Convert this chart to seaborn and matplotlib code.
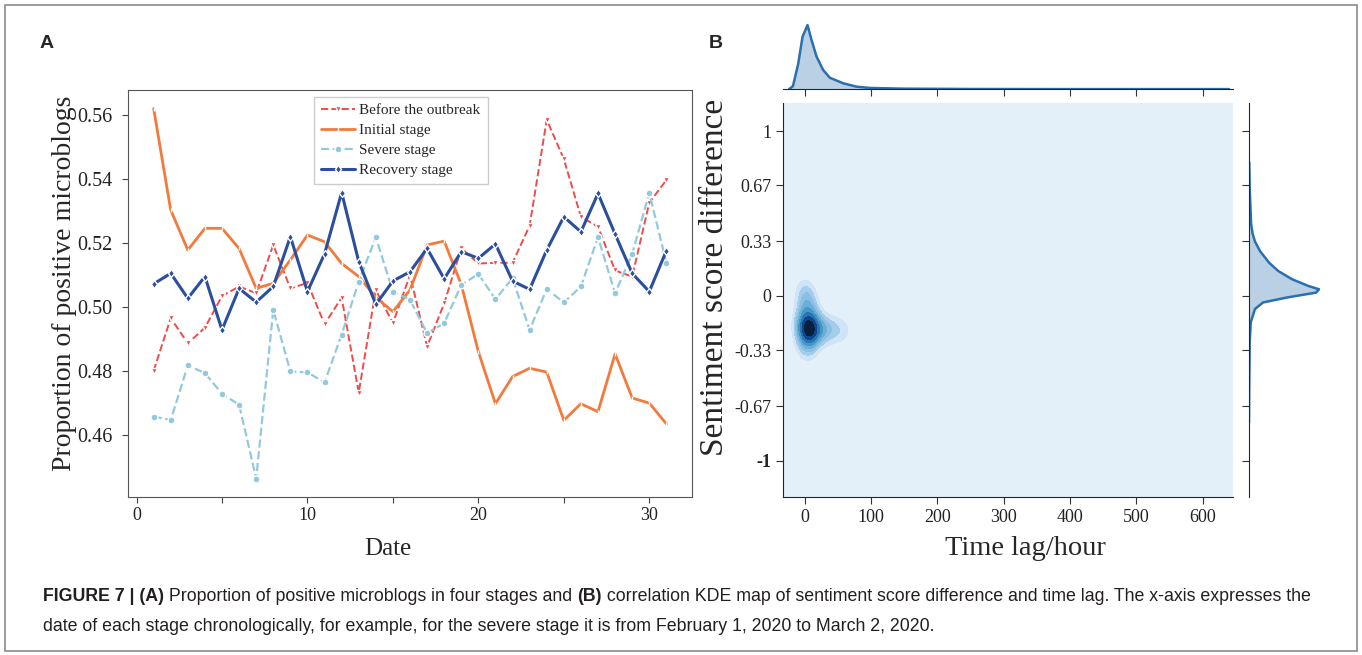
import numpy as np
import pandas as pd
import seaborn as sns
import matplotlib.pyplot as plt
from matplotlib import font_manager
from matplotlib.colors import LinearSegmentedColormap
from matplotlib.patches import Rectangle

# ---------------- panel A data ----------------
days = list(range(1, 32))
before_outbreak = [0.4800, 0.4965, 0.4886, 0.4935, 0.5034, 0.5064, 0.5043, 0.5194, 0.5058, 0.5075,
                   0.4946, 0.5029, 0.4732, 0.5053, 0.4949, 0.5100, 0.4876, 0.5011, 0.5183, 0.5136,
                   0.5138, 0.5138, 0.5254, 0.5586, 0.5463, 0.5282, 0.5251, 0.5114, 0.5095, 0.5326, 0.5397]
initial_stage = [0.5621, 0.5303, 0.5178, 0.5246, 0.5246, 0.5183, 0.5058, 0.5074, 0.5147, 0.5225,
                 0.5204, 0.5136, 0.5095, 0.5030, 0.4985, 0.5053, 0.5194, 0.5206, 0.5070, 0.4860,
                 0.4697, 0.4782, 0.4808, 0.4796, 0.4645, 0.4697, 0.4672, 0.4853, 0.4715, 0.4699, 0.4634]
severe_stage = [0.4657, 0.4646, 0.4817, 0.4793, 0.4728, 0.4694, 0.4463, 0.4991, 0.4798, 0.4795,
                0.4764, 0.4913, 0.5079, 0.5218, 0.5048, 0.5022, 0.4918, 0.4949, 0.5069, 0.5103,
                0.5024, 0.5090, 0.4928, 0.5056, 0.5014, 0.5064, 0.5218, 0.5043, 0.5166, 0.5357, 0.5138]
recovery_stage = [0.5072, 0.5105, 0.5027, 0.5095, 0.4928, 0.5058, 0.5015, 0.5064, 0.5220, 0.5048,
                  0.5166, 0.5358, 0.5142, 0.5008, 0.5081, 0.5110, 0.5183, 0.5088, 0.5173, 0.5152,
                  0.5197, 0.5081, 0.5055, 0.5178, 0.5282, 0.5235, 0.5355, 0.5228, 0.5105, 0.5048, 0.5176]
stage_names = ["Before the outbreak", "Initial stage", "Severe stage", "Recovery stage"]

# ---------------- panel B data ----------------
# estimated (time lag, score difference) pairs behind the joint KDE
joint_lag = [0, 2, 4, 5, 6, 3, 1, 8, 5, 2, 7, 4, 0, 10, 6, 3, 12, 9, 15, 18,
             22, 28, 35, 45, 1, 5, 0, 4, 7, 3, 30, 50, 62, 1, 3, 0]
joint_diff = [-0.20, -0.18, -0.22, -0.20, -0.15, -0.25, -0.10, -0.20, -0.05, -0.30,
              -0.24, -0.12, -0.02, -0.18, -0.28, -0.16, -0.22, -0.10, -0.20, -0.17,
              -0.22, -0.19, -0.21, -0.20, -0.35, 0.02, -0.20, -0.20, -0.19, -0.21,
              -0.20, -0.21, -0.20, 0.05, -0.03, -0.27]
# marginal density curves (relative height)
lag_grid = [-24, -18, -10, -3.5, 4, 10, 17.6, 27.6, 37.7, 58, 78, 98, 148, 249, 400, 640]
lag_density = [0, 0.05, 0.40, 0.82, 1.0, 0.77, 0.51, 0.30, 0.18, 0.093, 0.041, 0.021, 0.010,
               0.005, 0.003, 0.003]
diff_grid = [-0.77, -0.57, -0.28, -0.16, -0.08, -0.04, -0.01, 0.02, 0.04, 0.06, 0.10, 0.15,
             0.20, 0.27, 0.33, 0.38, 0.44, 0.545, 0.65, 0.81]
diff_density = [0, 0.003, 0.01, 0.025, 0.085, 0.20, 0.54, 0.96, 1.0, 0.85, 0.62, 0.42,
                0.29, 0.16, 0.085, 0.05, 0.03, 0.02, 0.01, 0.004]

caption_1 = [("FIGURE 7 | (A)", "bold"), (" Proportion of positive microblogs in four stages and ", "normal"),
             ("(B)", "bold"), (" correlation KDE map of sentiment score difference and time lag. The x-axis expresses the", "normal")]
caption_2 = [("date of each stage chronologically, for example, for the severe stage it is from February 1, 2020 to March 2, 2020.", "normal")]

sns.set_style("ticks")
serif = "Liberation Serif"
have = {f.name for f in font_manager.fontManager.ttflist}
cap_font = "Liberation Sans Narrow" if "Liberation Sans Narrow" in have else "Liberation Sans"
cap_size = 15.4 if cap_font == "Liberation Sans Narrow" else 12.8
plt.rcParams["font.family"] = [serif, "DejaVu Serif"]

W, H = 1362, 655
fig = plt.figure(figsize=(W / 100, H / 100), dpi=100)


def box(x0, y0, x1, y1):
    return [x0 / W, 1 - y1 / H, (x1 - x0) / W, (y1 - y0) / H]


# ---------------- panel A ----------------
ax = fig.add_axes(box(128, 90, 692, 497))
styles = [
    dict(color="#ee4b4b", linestyle="--", marker="v", markersize=5, linewidth=1.4),
    dict(color="#f47a3c", linestyle="-", marker="|", markersize=3, linewidth=2.0),
    dict(color="#93c9dd", linestyle="--", marker="o", markersize=5, linewidth=1.6),
    dict(color="#2b4f9e", linestyle="-", marker="d", markersize=4.5, linewidth=2.2),
]
for vals, name, st in zip([before_outbreak, initial_stage, severe_stage, recovery_stage], stage_names, styles):
    sns.lineplot(x=days, y=vals, label=name, ax=ax, markeredgewidth=1, **st)

ax.set_xticks([0, 5, 10, 15, 20, 25, 30])
ax.set_xticklabels(["0", "", "10", "", "20", "", "30"])
ax.set_yticks([0.46, 0.48, 0.50, 0.52, 0.54, 0.56])
ax.set_yticklabels(["0.46", "0.48", "0.50", "0.52", "0.54", "0.56"])
ax.tick_params(labelsize=13, length=4, color="#444444", labelcolor="#222222")
ax.tick_params(axis="y", labelsize=14.5, pad=7)
ax.set_xlabel("Date", fontsize=18)
ax.xaxis.set_label_coords(0.461, -0.100)
ax.set_ylabel("Proportion of positive microblogs", fontsize=20)
ax.yaxis.set_label_coords(-0.091, 0.526)
for sp in ax.spines.values():
    sp.set_visible(True)
    sp.set_color("#555555")
ax.legend(loc="upper center", bbox_to_anchor=(0.484, 0.983), borderaxespad=0, fontsize=11,
          handlelength=2.2, handletextpad=0.3, labelspacing=0.4, borderpad=0.45,
          fancybox=False, framealpha=1, edgecolor="#cccccc")

# ---------------- panel B ----------------
ax_j = fig.add_axes(box(783, 103, 1233, 497))
ax_top = fig.add_axes(box(783, 18, 1233, 89.3), sharex=ax_j)
ax_r = fig.add_axes(box(1249, 103, 1340, 497), sharey=ax_j)

kde_cmap = LinearSegmentedColormap.from_list(
    "kde_blues", ["#e3eff9", "#e3eff9", "#a8cfec", "#8cbfe4", "#6aaed6", "#4a98c9",
                  "#2f7fbc", "#1863a6", "#0b4283", "#0a2546", "#050f1c"])
sns.kdeplot(x=joint_lag, y=joint_diff, fill=True, thresh=0, levels=10, cmap=kde_cmap,
            bw_adjust=1.3, cut=300, clip=((-35, 650), (-1.25, 1.25)), gridsize=500, ax=ax_j)
ax_j.set_xlim(-33, 646)
ax_j.set_ylim(-1.22, 1.17)
ax_j.set_xticks([0, 100, 200, 300, 400, 500, 600])
ax_j.set_yticks([1, 0.67, 0.33, 0, -0.33, -0.67, -1])
ax_j.set_yticklabels(["1", "0.67", "0.33", "0", "-0.33", "-0.67", "-1"])
ax_j.get_yticklabels()[-1].set_fontweight("bold")
ax_j.tick_params(labelsize=13, length=5, color="#333333", labelcolor="#222222")
ax_j.set_xlabel("Time lag/hour", fontsize=20.5)
ax_j.xaxis.set_label_coords(0.538, -0.100)
ax_j.set_ylabel("Sentiment score difference", fontsize=24)
ax_j.yaxis.set_label_coords(-0.118, 0.558)
sns.despine(ax=ax_j)

marg = "#2a6fae"
sns.lineplot(x=lag_grid, y=lag_density, ax=ax_top, color=marg, linewidth=1.8)
ax_top.fill_between(lag_grid, lag_density, color=marg, alpha=0.32, linewidth=0)
ax_top.set_ylim(0, 1.11)
ax_top.tick_params(labelbottom=False, left=False, labelleft=False, length=5, color="#333333")
ax_top.set_ylabel("")
sns.despine(ax=ax_top, left=True)

sns.lineplot(x=diff_density, y=diff_grid, orient="y", ax=ax_r, color=marg, linewidth=1.8)
ax_r.fill_betweenx(diff_grid, diff_density, color=marg, alpha=0.32, linewidth=0)
ax_r.set_xlim(0, 1.3)
ax_r.tick_params(labelleft=False, bottom=False, labelbottom=False, length=5, color="#333333")
ax_r.set_xlabel("")
sns.despine(ax=ax_r, bottom=True)

# ---------------- panel letters, caption, frame ----------------
cap = fig.add_axes([0, 0, 1, 1])
cap.axis("off")
cap.set_xlim(0, 1)
cap.set_ylim(0, 1)
cap.text(40 / W, 1 - 43 / H, "A", family="Liberation Sans", fontweight="bold", fontsize=14, va="center")
cap.text(709 / W, 1 - 43 / H, "B", family="Liberation Sans", fontweight="bold", fontsize=14, va="center")


def caption_line(y, pieces):
    prev = None
    for txt, wt in pieces:
        kw = dict(family=cap_font, fontweight=wt, fontsize=cap_size, color="#231f20", va="bottom", ha="left")
        if prev is None:
            prev = cap.text(43 / W, 1 - y / H, txt, **kw)
        else:
            prev = cap.annotate(txt, xy=(1, 0), xycoords=prev, **kw)


caption_line(605, caption_1)
caption_line(635, caption_2)
cap.add_patch(Rectangle((5 / W, 4 / H), 1352 / W, 646 / H, fill=False, edgecolor="#8a8a8a", linewidth=1.2))

fig.savefig("out.png", dpi=100)
